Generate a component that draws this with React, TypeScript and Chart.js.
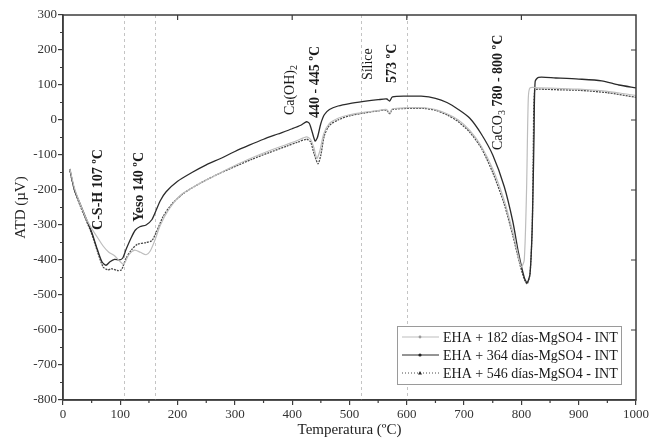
import React, { useEffect, useRef } from "react";
import { Chart, registerables } from "chart.js";

Chart.register(...registerables);

const SERIF = "'Liberation Serif', 'Times New Roman', serif";

// Temperature (ºC) tick labels and ATD (µV) tick labels
const xTickValues = [0, 100, 200, 300, 400, 500, 600, 700, 800, 900, 1000];
const yTickValues = [-800, -700, -600, -500, -400, -300, -200, -100, 0, 100, 200, 300];

// Series 1: EHA + 182 días-MgSO4 - INT
const temp182 = [12, 20, 30, 40, 50, 60, 70, 80, 90, 100, 106, 115, 125, 135, 145, 152, 160, 170, 185, 205, 240, 270, 300, 330, 360, 390, 410, 425, 432, 438, 443, 448, 455, 465, 480, 500, 525, 550, 565, 570, 575, 600, 630, 650, 670, 690, 710, 730, 750, 770, 785, 795, 800, 805, 809, 812, 815, 830, 870, 900, 950, 1000];
const atd182 = [-140, -195, -240, -280, -310, -335, -360, -378, -388, -405, -412, -385, -372, -378, -385, -375, -345, -300, -255, -215, -180, -155, -130, -108, -88, -70, -58, -48, -55, -80, -110, -90, -40, -10, 5, 15, 22, 27, 30, 20, 32, 35, 35, 30, 18, 0, -30, -75, -140, -230, -320, -390, -420, -400, -200, 60, 92, 92, 90, 88, 82, 70];

// Series 2: EHA + 364 días-MgSO4 - INT
const temp364 = [12, 15, 20, 30, 40, 50, 60, 68, 75, 82, 90, 98, 104, 110, 118, 126, 134, 145, 155, 162, 170, 180, 200, 225, 250, 275, 300, 325, 350, 375, 400, 415, 425, 430, 435, 440, 444, 450, 456, 465, 480, 500, 525, 550, 565, 570, 575, 600, 625, 650, 670, 690, 710, 730, 750, 770, 785, 795, 805, 810, 815, 819, 822, 824, 830, 860, 900, 940, 970, 1000];
const atd364 = [-140, -165, -200, -240, -280, -320, -370, -405, -415, -405, -398, -400, -395, -370, -340, -315, -305, -300, -285, -260, -230, -205, -175, -150, -128, -110, -90, -72, -55, -40, -25, -15, -5, -10, -35, -60, -50, -10, 15, 30, 40, 47, 53, 58, 60, 54, 66, 68, 68, 62, 50, 30, 5, -40, -100, -190, -290, -380, -450, -465, -440, -300, -50, 110, 122, 120, 117, 112, 100, 92];

// Series 3: EHA + 546 días-MgSO4 - INT
const temp546 = [12, 20, 30, 40, 50, 60, 70, 78, 85, 95, 102, 110, 120, 130, 145, 155, 163, 175, 190, 210, 240, 270, 300, 330, 360, 390, 410, 425, 432, 438, 445, 450, 456, 465, 480, 500, 525, 550, 565, 570, 575, 600, 630, 650, 670, 690, 710, 730, 750, 770, 785, 797, 805, 810, 815, 819, 821, 823, 830, 870, 900, 950, 1000];
const atd546 = [-145, -200, -245, -285, -325, -375, -420, -428, -425, -430, -428, -395, -370, -355, -350, -345, -320, -275, -240, -210, -180, -155, -133, -112, -93, -75, -63, -55, -62, -95, -125, -100, -45, -15, 0, 12, 20, 26, 28, 18, 30, 33, 33, 28, 15, -5, -35, -80, -150, -240, -330, -410, -455, -468, -440, -300, -50, 85, 88, 86, 85, 78, 65];

const seriesNames = [
  "EHA + 182 días-MgSO4 - INT",
  "EHA + 364 días-MgSO4 - INT",
  "EHA + 546 días-MgSO4 - INT",
];

// Reference temperatures (dashed guides)
const guideTemps = [107, 160, 520, 600];

// Rotated annotations: x (ºC) of text centre, y (µV) of text start
const annotations = [
  { x: 61, y: -314, parts: [{ t: "C-S-H 107 ºC", bold: true }] },
  { x: 134, y: -291, parts: [{ t: "Yeso 140 ºC", bold: true }] },
  { x: 396, y: 14, parts: [{ t: "Ca(OH)" }, { t: "2", sub: true }] },
  { x: 441, y: 6, parts: [{ t: "440 - 445 ºC", bold: true }] },
  { x: 532, y: 114, parts: [{ t: "Sílice" }] },
  { x: 574, y: 106, parts: [{ t: "573 ºC", bold: true }] },
  { x: 759, y: -86, parts: [{ t: "CaCO" }, { t: "3", sub: true }, { t: " 780 - 800 ºC", bold: true }] },
];

const toXY = (xs: number[], ys: number[]) => xs.map((x, i) => ({ x, y: ys[i] }));

const seriesStyles = [
  { color: "#bdbdbd", width: 1.2, dash: [] as number[], marker: "circle" },
  { color: "#2b2b2b", width: 1.3, dash: [] as number[], marker: "dot" },
  { color: "#4a4a4a", width: 1.3, dash: [2, 1] as number[], marker: "triangle" },
];

function drawMarker(ctx: CanvasRenderingContext2D, kind: string, x: number, y: number, color: string) {
  ctx.save();
  ctx.fillStyle = color;
  ctx.setLineDash([]);
  ctx.beginPath();
  if (kind === "triangle") {
    ctx.moveTo(x, y - 2);
    ctx.lineTo(x + 2, y + 1.5);
    ctx.lineTo(x - 2, y + 1.5);
    ctx.closePath();
  } else {
    ctx.arc(x, y, kind === "dot" ? 1.6 : 1.4, 0, Math.PI * 2);
  }
  ctx.fill();
  ctx.restore();
}

const decorPlugin = {
  id: "decor",
  beforeDatasetsDraw(chart: any) {
    const { ctx, chartArea, scales } = chart;
    const xs = scales.x;
    ctx.save();
    ctx.strokeStyle = "#c4c4c4";
    ctx.lineWidth = 1;
    ctx.setLineDash([3, 3]);
    for (const v of guideTemps) {
      const px = Math.round(xs.getPixelForValue(v)) + 0.5;
      ctx.beginPath();
      ctx.moveTo(px, chartArea.top);
      ctx.lineTo(px, chartArea.bottom);
      ctx.stroke();
    }
    ctx.restore();
  },
  afterDraw(chart: any) {
    const { ctx, chartArea, scales } = chart;
    const xs = scales.x;
    const ys = scales.y;
    const { left, right, top, bottom } = chartArea;
    ctx.save();
    // frame
    ctx.strokeStyle = "#3c3c3c";
    ctx.lineWidth = 1.5;
    ctx.setLineDash([]);
    ctx.strokeRect(left, top, right - left, bottom - top);
    // minor ticks
    ctx.lineWidth = 1.2;
    ctx.beginPath();
    for (let v = 50; v < 1000; v += 100) {
      const px = xs.getPixelForValue(v);
      ctx.moveTo(px, bottom);
      ctx.lineTo(px, bottom + 3);
    }
    for (let v = -750; v < 300; v += 100) {
      const py = ys.getPixelForValue(v);
      ctx.moveTo(left, py);
      ctx.lineTo(left - 3, py);
    }
    // mirrored ticks on top and right
    for (let v = 200; v < 1000; v += 200) {
      const px = xs.getPixelForValue(v);
      ctx.moveTo(px, top);
      ctx.lineTo(px, top + 5);
    }
    for (let v = -600; v < 300; v += 200) {
      const py = ys.getPixelForValue(v);
      ctx.moveTo(right, py);
      ctx.lineTo(right - 5, py);
    }
    ctx.stroke();

    // annotations
    ctx.fillStyle = "#1a1a1a";
    for (const a of annotations) {
      const px = xs.getPixelForValue(a.x);
      const py = ys.getPixelForValue(a.y);
      ctx.save();
      ctx.translate(px, py);
      ctx.rotate(-Math.PI / 2);
      ctx.textAlign = "left";
      ctx.textBaseline = "middle";
      let cx = 0;
      for (const p of a.parts as any[]) {
        ctx.font = `${p.bold ? "bold " : ""}${p.sub ? 10 : 14}px ${SERIF}`;
        ctx.fillText(p.t, cx, p.sub ? 4 : 0);
        cx += ctx.measureText(p.t).width;
      }
      ctx.restore();
    }

    // legend
    const boxRight = right - 15;
    const boxBottom = bottom - 16;
    const rowH = 18;
    const boxH = rowH * 3 + 4;
    const boxW = 224;
    const bx = boxRight - boxW;
    const by = boxBottom - boxH;
    ctx.fillStyle = "#ffffff";
    ctx.fillRect(bx, by, boxW, boxH);
    ctx.strokeStyle = "#9a9a9a";
    ctx.lineWidth = 1;
    ctx.strokeRect(bx + 0.5, by + 0.5, boxW, boxH);
    ctx.font = `14px ${SERIF}`;
    ctx.textBaseline = "middle";
    ctx.textAlign = "left";
    seriesNames.forEach((name, i) => {
      const st = seriesStyles[i];
      const cy = by + 2 + rowH * i + rowH / 2;
      ctx.strokeStyle = st.color;
      ctx.lineWidth = 1;
      ctx.setLineDash(st.dash.length ? [1, 2] : []);
      ctx.beginPath();
      ctx.moveTo(bx + 5, cy);
      ctx.lineTo(bx + 42, cy);
      ctx.stroke();
      drawMarker(ctx, st.marker, bx + 23, cy, i === 0 ? "#9a9a9a" : "#222");
      ctx.setLineDash([]);
      ctx.fillStyle = "#1a1a1a";
      ctx.fillText(name, bx + 46, cy + 1);
    });
    ctx.restore();
  },
};

export default function App() {
  const ref = useRef<HTMLCanvasElement | null>(null);
  useEffect(() => {
    if (!ref.current) return;
    const datasets = [
      toXY(temp182, atd182),
      toXY(temp364, atd364),
      toXY(temp546, atd546),
    ].map((data, i) => ({
      label: seriesNames[i],
      data,
      borderColor: seriesStyles[i].color,
      borderWidth: seriesStyles[i].width,
      borderDash: seriesStyles[i].dash,
      pointRadius: 0,
      fill: false,
      tension: 0.25,
    }));
    const chart = new Chart(ref.current, {
      type: "line",
      data: { datasets },
      options: {
        animation: false,
        responsive: false,
        devicePixelRatio: 1,
        layout: { padding: { top: 15, right: 16, left: 0, bottom: 0 } },
        plugins: { legend: { display: false }, tooltip: { enabled: false } },
        scales: {
          x: {
            type: "linear",
            min: 0,
            max: 1000,
            afterBuildTicks: (s: any) => {
              s.ticks = xTickValues.map((v) => ({ value: v }));
            },
            afterFit: (s: any) => {
              s.height = 39;
            },
            ticks: { color: "#333", font: { family: SERIF, size: 13 }, padding: 2, maxRotation: 0, callback: (v: any) => String(v) },
            grid: { drawOnChartArea: false, drawTicks: true, tickLength: 5, color: "#3c3c3c", lineWidth: 1.2 },
            border: { display: true, color: "#3c3c3c", width: 1.5 },
            title: { display: true, text: "Temperatura (ºC)", color: "#222", font: { family: SERIF, size: 15 }, padding: { top: 0, bottom: 0 } },
          },
          y: {
            type: "linear",
            min: -800,
            max: 300,
            afterBuildTicks: (s: any) => {
              s.ticks = yTickValues.map((v) => ({ value: v }));
            },
            afterFit: (s: any) => {
              s.width = 63;
            },
            ticks: { color: "#333", font: { family: SERIF, size: 13 }, padding: 1, callback: (v: any) => String(v) },
            grid: { drawOnChartArea: false, drawTicks: true, tickLength: 5, color: "#3c3c3c", lineWidth: 1.2 },
            border: { display: true, color: "#3c3c3c", width: 1.5 },
            title: { display: true, text: "ATD (µV)", color: "#222", font: { family: SERIF, size: 15 }, padding: { top: 12, bottom: 0 } },
          },
        },
      },
      plugins: [decorPlugin],
    } as any);
    return () => chart.destroy();
  }, []);
  return (
    <div style={{ position: "fixed", left: 0, top: 0, width: 652, height: 439, background: "#fff" }}>
      <canvas ref={ref} width={652} height={439} style={{ display: "block" }} />
    </div>
  );
}
